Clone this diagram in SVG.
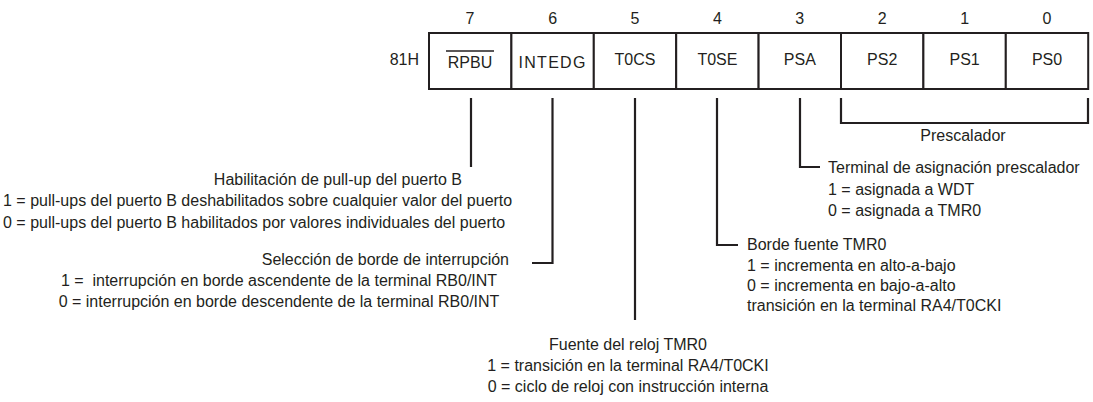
<svg xmlns="http://www.w3.org/2000/svg" width="1093" height="402" viewBox="0 0 1093 402">
<style>
text{font-family:"Liberation Sans",Arial,sans-serif;font-size:16px;fill:#231f20}
.cell{fill:#fff;stroke:#231f20;stroke-width:2}
.num{text-anchor:middle}
.mid{text-anchor:middle}
.end{text-anchor:end}
.con{fill:none;stroke:#231f20;stroke-width:2.2}
.pre{white-space:pre}
</style>
<rect width="1093" height="402" fill="#fff"/>
<g id="reg-label"><text x="419" y="65" class="end">81H</text></g>
<g id="bit7"><rect class="cell" x="429" y="33" width="82.4" height="56"/><text x="470" y="24" class="num">7</text><text x="470" y="68" class="mid">RPBU</text><line x1="446" y1="51" x2="494" y2="51" stroke="#231f20" stroke-width="1.6"/></g>
<g id="bit6"><rect class="cell" x="511.4" y="33" width="82.4" height="56"/><text x="552.6" y="68" class="num" dy="-44">6</text><text x="552.6" y="68" class="mid" letter-spacing="1.3">INTEDG</text></g>
<g id="bit5"><rect class="cell" x="593.8" y="33" width="82.4" height="56"/><text x="635" y="24" class="num">5</text><text x="635" y="65" class="mid">T0CS</text></g>
<g id="bit4"><rect class="cell" x="676.2" y="33" width="82.4" height="56"/><text x="717.4" y="24" class="num">4</text><text x="717.4" y="65" class="mid">T0SE</text></g>
<g id="bit3"><rect class="cell" x="758.6" y="33" width="82.4" height="56"/><text x="799.8" y="24" class="num">3</text><text x="799.8" y="65" class="mid">PSA</text></g>
<g id="bit2"><rect class="cell" x="841" y="33" width="82.4" height="56"/><text x="882.2" y="24" class="num">2</text><text x="882.2" y="65" class="mid">PS2</text></g>
<g id="bit1"><rect class="cell" x="923.4" y="33" width="82.4" height="56"/><text x="964.6" y="24" class="num">1</text><text x="964.6" y="65" class="mid">PS1</text></g>
<g id="bit0"><rect class="cell" x="1005.8" y="33" width="82.4" height="56"/><text x="1047" y="24" class="num">0</text><text x="1047" y="65" class="mid">PS0</text></g>
<g id="connectors">
<path class="con" d="M471 98V167"/>
<path class="con" d="M552.5 98V263H532"/>
<path class="con" d="M635 98V320"/>
<path class="con" d="M717 98V245H738"/>
<path class="con" d="M800 98V167H820"/>
<path class="con" d="M841 98V123H1088V98"/>
</g>
<g id="prescalador"><text x="963" y="141" class="mid">Prescalador</text></g>
<g id="desc-rpbu">
<text x="462" y="185" class="end">Habilitación de pull-up del puerto B</text>
<text x="3" y="206">1 = pull-ups del puerto B deshabilitados sobre cualquier valor del puerto</text>
<text x="3" y="228">0 = pull-ups del puerto B habilitados por valores individuales del puerto</text>
</g>
<g id="desc-intedg">
<text x="509" y="265" class="end">Selección de borde de interrupción</text>
<text x="279" y="286" class="mid pre">1 =  interrupción en borde ascendente de la terminal RB0/INT</text>
<text x="279" y="307" class="mid">0 = interrupción en borde descendente de la terminal RB0/INT</text>
</g>
<g id="desc-t0cs">
<text x="628" y="350" class="mid">Fuente del reloj TMR0</text>
<text x="628" y="371" class="mid">1 = transición en la terminal RA4/T0CKI</text>
<text x="628" y="392" class="mid">0 = ciclo de reloj con instrucción interna</text>
</g>
<g id="desc-t0se">
<text x="747" y="250">Borde fuente TMR0</text>
<text x="747" y="271">1 = incrementa en alto-a-bajo</text>
<text x="747" y="291">0 = incrementa en bajo-a-alto</text>
<text x="747" y="311">transición en la terminal RA4/T0CKI</text>
</g>
<g id="desc-psa">
<text x="828" y="173">Terminal de asignación prescalador</text>
<text x="828" y="195">1 = asignada a WDT</text>
<text x="828" y="216">0 = asignada a TMR0</text>
</g>
</svg>
